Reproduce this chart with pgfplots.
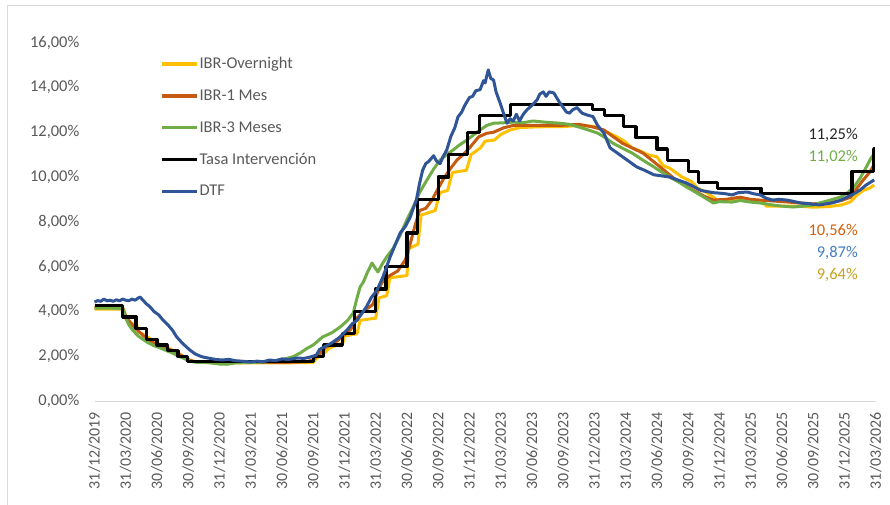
\documentclass[border=0pt]{standalone}
\usepackage{pgfplots}
\pgfplotsset{compat=1.18}
\usepackage{fontspec}
\setmainfont{Carlito}

\definecolor{ibron}{HTML}{FFC000}
\definecolor{ibr1m}{HTML}{C55A11}
\definecolor{ibr3m}{HTML}{70AD47}
\definecolor{dtf}{HTML}{2F5597}
\definecolor{txtgray}{HTML}{595959}
\definecolor{frame}{HTML}{D9D9D9}

\begin{document}
\begin{tikzpicture}
\useasboundingbox (0,0) rectangle (890bp,505bp);
\draw[frame, line width=0.8bp] (7bp,0) -- (7bp,500bp) -- (890bp,500bp);

\begin{axis}[
    at={(94.5bp,104bp)}, anchor=south west,
    scale only axis,
    width=781.25bp, height=358.4bp,
    xmin=0, xmax=25, ymin=0, ymax=16,
    axis x line*=bottom,
    axis y line*=left,
    x axis line style={frame, line width=0.8bp, -},
    y axis line style={draw=none},
    major tick length=0pt,
    xtick={0,...,25},
    xticklabels={31/12/2019,31/03/2020,30/06/2020,30/09/2020,31/12/2020,31/03/2021,30/06/2021,30/09/2021,31/12/2021,31/03/2022,30/06/2022,30/09/2022,31/12/2022,31/03/2023,30/06/2023,30/09/2023,31/12/2023,31/03/2024,30/06/2024,30/09/2024,31/12/2024,31/03/2025,30/06/2025,30/09/2025,31/12/2025,31/03/2026},
    xticklabel style={rotate=90, anchor=east, inner sep=0pt, font=\fontsize{16}{18}\selectfont, text=txtgray},
    xticklabel shift=11bp,
    ytick={0,2,...,16},
    yticklabels={{0,00\%},{2,00\%},{4,00\%},{6,00\%},{8,00\%},{10,00\%},{12,00\%},{14,00\%},{16,00\%}},
    yticklabel style={anchor=east, inner sep=0pt, font=\fontsize{16.5}{18}\selectfont, text=txtgray},
    yticklabel shift=15bp,
    clip=false,
    legend cell align=left,
    legend style={at={(axis cs:2.1,15.39)}, anchor=north west, draw=none, fill=none,
        inner sep=0pt, row sep=17.5bp, font=\fontsize{16.5}{18}\selectfont, text=txtgray,
        nodes={inner sep=1bp}},
    legend image code/.code={\draw[#1, line width=3.2bp] (0bp,0bp) -- (35bp,0bp);},
    every axis plot/.append style={line width=3bp, line join=round},
]
% IBR-Overnight
\addplot[ibron] coordinates {
(0,4.1) (0.92,4.1) (1.0,3.7) (1.1,3.5) (1.35,3.4) (1.4,3.1) (1.7,2.85) (2.0,2.6) (2.3,2.4) (2.6,2.2) (2.9,1.95) (3.1,1.78) (3.5,1.72) (4,1.7) (5,1.7) (6,1.7) (7.0,1.72) (7.1,1.9) (7.4,2.2) (7.5,2.35) (7.95,2.6) (8.0,2.9) (8.4,3.0) (8.5,3.6) (9.0,3.7) (9.1,4.6) (9.35,4.7) (9.45,5.5) (10.0,5.6) (10.05,6.8) (10.35,7.0) (10.45,8.3) (10.9,8.5) (11.05,9.3) (11.3,9.4) (11.45,10.2) (11.9,10.3) (12.05,11.0) (12.35,11.3) (12.5,11.6) (12.8,11.65) (13.0,11.9) (13.3,12.1) (13.6,12.2) (14.0,12.23) (14.5,12.25) (15,12.25) (15.5,12.3) (16.0,12.25) (16.4,12.0) (16.7,11.8) (16.95,11.6) (17.2,11.3) (17.4,11.2) (17.7,11.0) (18.0,10.9) (18.2,10.5) (18.4,10.4) (18.8,10.0) (19.1,9.8) (19.3,9.5) (19.6,9.3) (19.9,9.0) (20.2,8.95) (20.66,9.05) (21.0,8.95) (21.4,8.9) (21.5,8.7) (22.0,8.7) (22.5,8.7) (23.0,8.65) (23.5,8.68) (23.9,8.75) (24.2,8.9) (24.4,9.2) (24.6,9.4) (24.8,9.5) (24.95,9.64)
};
\addlegendentry{IBR-Overnight}
% IBR-1 Mes
\addplot[ibr1m] coordinates {
(0,4.2) (0.9,4.18) (1.0,3.8) (1.15,3.5) (1.3,3.25) (1.5,3.0) (1.7,2.75) (1.95,2.55) (2.2,2.4) (2.5,2.25) (2.75,2.05) (3.0,1.85) (3.2,1.76) (3.5,1.73) (4.0,1.72) (5.0,1.72) (6.0,1.72) (6.8,1.75) (7.0,1.85) (7.2,2.1) (7.4,2.4) (7.7,2.6) (7.95,2.9) (8.2,3.2) (8.4,3.7) (8.6,4.0) (8.9,4.3) (9.04,4.8) (9.2,5.3) (9.45,5.6) (9.7,5.8) (9.95,6.3) (10.1,7.0) (10.25,7.8) (10.4,8.5) (10.6,8.6) (10.8,8.97) (11.0,9.5) (11.15,9.87) (11.35,10.3) (11.6,10.76) (11.8,11.0) (12.0,11.3) (12.3,11.8) (12.55,11.95) (12.77,12.0) (13.1,12.2) (13.4,12.3) (14.25,12.3) (14.9,12.3) (15.5,12.35) (15.9,12.25) (16.3,12.1) (16.9,11.5) (17.55,11.07) (18.1,10.45) (18.6,9.87) (19.15,9.42) (19.5,9.15) (19.8,8.97) (20.2,9.0) (20.66,9.1) (21.0,9.0) (21.5,8.95) (22.0,8.9) (22.5,8.85) (23.0,8.8) (23.5,8.85) (23.9,8.95) (24.2,9.1) (24.4,9.5) (24.6,9.87) (24.8,10.2) (24.95,10.56)
};
\addlegendentry{IBR-1 Mes}
% IBR-3 Meses
\addplot[ibr3m] coordinates {
(0,4.15) (0.5,4.15) (0.9,4.12) (1.0,3.7) (1.1,3.4) (1.23,3.15) (1.4,2.9) (1.68,2.63) (1.9,2.47) (2.1,2.37) (2.3,2.25) (2.5,2.14) (2.7,2.0) (2.83,1.92) (3.05,1.78) (3.3,1.72) (3.6,1.72) (4.0,1.65) (4.24,1.64) (4.5,1.7) (5.0,1.72) (5.5,1.75) (5.8,1.8) (6.1,1.88) (6.36,1.98) (6.58,2.14) (6.8,2.35) (7.0,2.5) (7.3,2.86) (7.6,3.05) (7.86,3.3) (8.1,3.6) (8.28,3.93) (8.4,4.6) (8.5,5.09) (8.6,5.3) (8.72,5.7) (8.88,6.16) (8.95,6.0) (9.07,5.76) (9.2,6.1) (9.35,6.43) (9.55,6.8) (9.78,7.4) (10.0,8.1) (10.2,8.66) (10.4,9.3) (10.64,9.87) (10.85,10.35) (11.06,10.76) (11.27,11.0) (11.47,11.2) (11.7,11.45) (11.92,11.65) (12.1,11.85) (12.34,12.1) (12.55,12.3) (12.77,12.4) (13.1,12.42) (13.4,12.45) (13.7,12.42) (14.03,12.5) (14.4,12.45) (14.9,12.4) (15.2,12.35) (15.5,12.23) (15.8,12.1) (16.1,11.96) (16.35,11.75) (16.6,11.5) (16.9,11.28) (17.2,11.07) (17.55,10.75) (17.9,10.45) (18.15,10.22) (18.4,10.0) (18.7,9.77) (18.95,9.55) (19.2,9.35) (19.5,9.1) (19.8,8.84) (20.0,8.9) (20.4,8.88) (20.66,8.95) (21.0,8.88) (21.3,8.84) (21.7,8.75) (22.0,8.7) (22.35,8.66) (22.7,8.7) (23.0,8.75) (23.2,8.84) (23.5,8.95) (23.86,9.1) (24.1,9.3) (24.3,9.55) (24.5,9.95) (24.7,10.45) (24.85,10.85) (24.95,11.02)
};
\addlegendentry{IBR-3 Meses}
% Tasa de intervencion (step)
\addplot[black, const plot, line width=3.2bp] coordinates {
(0,4.25) (0.9,3.75) (1.33,3.25) (1.66,2.75) (2.0,2.5) (2.33,2.25) (2.67,2.0) (2.97,1.75) (7.0,2.0) (7.33,2.5) (7.93,3.0) (8.33,4.0) (9.0,5.0) (9.33,6.0) (10.0,7.5) (10.33,9.0) (11.0,10.0) (11.33,11.0) (11.93,12.0) (12.33,12.75) (13.32,13.25) (15.93,13.0) (16.33,12.75) (16.93,12.25) (17.33,11.75) (18.0,11.25) (18.33,10.75) (19.0,10.25) (19.33,9.75) (19.93,9.5) (21.33,9.25) (24.24,10.25) (24.93,11.25) (24.96,11.25)
};
\addlegendentry{Tasa Intervención}
% DTF
\addplot[dtf] coordinates {
(0,4.42) (0.1,4.48) (0.2,4.45) (0.3,4.55) (0.4,4.47) (0.5,4.5) (0.6,4.45) (0.7,4.52) (0.8,4.47) (0.9,4.55) (1.0,4.5) (1.1,4.48) (1.2,4.55) (1.3,4.5) (1.4,4.6) (1.46,4.64) (1.55,4.5) (1.65,4.35) (1.78,4.2) (1.9,4.0) (2.05,3.85) (2.2,3.6) (2.35,3.4) (2.5,3.15) (2.63,2.86) (2.8,2.6) (2.95,2.4) (3.05,2.28) (3.2,2.12) (3.35,2.02) (3.48,1.96) (3.7,1.9) (3.9,1.85) (4.1,1.83) (4.3,1.86) (4.5,1.8) (4.7,1.78) (5.0,1.74) (5.2,1.78) (5.4,1.75) (5.6,1.83) (5.8,1.8) (6.0,1.88) (6.2,1.85) (6.5,1.92) (6.7,1.9) (6.9,1.96) (7.1,2.05) (7.2,2.3) (7.4,2.45) (7.6,2.6) (7.86,2.86) (8.1,3.2) (8.25,3.45) (8.4,3.6) (8.55,3.9) (8.7,4.2) (8.85,4.6) (9.04,4.95) (9.23,5.54) (9.35,6.0) (9.46,6.43) (9.6,6.9) (9.78,7.5) (9.95,7.8) (10.1,8.2) (10.2,8.6) (10.3,8.97) (10.4,9.7) (10.5,10.3) (10.6,10.6) (10.7,10.7) (10.85,10.95) (10.95,10.7) (11.06,10.6) (11.15,10.9) (11.27,11.2) (11.4,11.8) (11.53,12.2) (11.63,12.68) (11.75,12.9) (11.85,13.2) (12.0,13.55) (12.1,13.6) (12.2,13.85) (12.34,13.9) (12.45,14.3) (12.5,14.2) (12.55,14.5) (12.6,14.78) (12.68,14.4) (12.77,14.33) (12.85,13.8) (12.98,13.3) (13.1,12.8) (13.2,12.4) (13.3,12.6) (13.4,12.5) (13.5,12.8) (13.6,12.5) (13.72,12.8) (13.84,13.0) (14.0,13.2) (14.16,13.44) (14.25,13.7) (14.36,13.8) (14.45,13.6) (14.55,13.8) (14.7,13.75) (14.85,13.4) (15.0,13.1) (15.1,12.9) (15.2,12.85) (15.3,13.0) (15.44,13.1) (15.6,12.85) (15.8,12.75) (15.95,12.7) (16.1,12.3) (16.3,11.96) (16.5,11.3) (16.7,11.1) (16.9,10.9) (17.1,10.7) (17.35,10.45) (17.6,10.3) (17.9,10.1) (18.15,10.05) (18.4,10.0) (18.7,9.85) (18.95,9.73) (19.2,9.55) (19.4,9.4) (19.6,9.35) (19.8,9.3) (20.0,9.28) (20.2,9.25) (20.4,9.2) (20.6,9.3) (20.88,9.33) (21.1,9.25) (21.3,9.2) (21.5,9.05) (21.7,8.97) (21.9,9.0) (22.16,8.97) (22.4,8.9) (22.6,8.84) (22.9,8.8) (23.2,8.75) (23.4,8.8) (23.6,8.84) (23.85,8.95) (24.08,9.1) (24.3,9.25) (24.5,9.42) (24.7,9.65) (24.95,9.87)
};
\addlegendentry{DTF}

% end-of-series value labels
\begin{scope}[every node/.style={anchor=east, inner sep=0pt, font=\fontsize{16.5}{18}\selectfont}]
\node[text=black!85] at (axis cs:24.43,11.875) {11,25\%};
\node[text=ibr3m] at (axis cs:24.43,10.89) {11,02\%};
\node[text=ibr1m!80!orange] at (axis cs:24.43,7.59) {10,56\%};
\node[text={rgb,255:red,68;green,124;blue,196}] at (axis cs:24.43,6.61) {9,87\%};
\node[text={rgb,255:red,200;green,160;blue,30}] at (axis cs:24.43,5.625) {9,64\%};
\end{scope}
\end{axis}
\end{tikzpicture}
\end{document}
